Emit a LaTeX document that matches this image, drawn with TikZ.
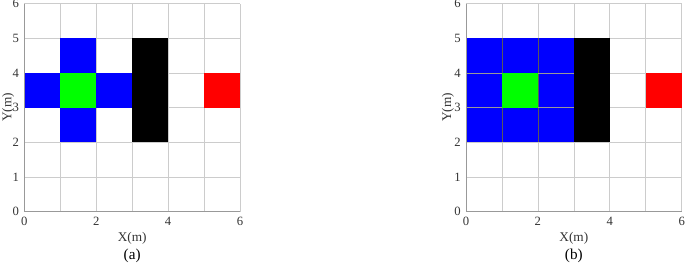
\documentclass[tikz,border=0pt]{standalone}
\usepackage{fontspec}
\setmainfont{Liberation Serif}
\usetikzlibrary{positioning}

\tikzset{
  gridline/.style={gray!40, line width=0.5pt},
  axisline/.style={gray!80, line width=0.6pt},
  innerline/.style={black!65, line width=0.3pt},
  ticklabel/.style={font=\fontsize{10}{12}\selectfont, text=black!80, inner sep=1pt},
  axislabel/.style={font=\fontsize{10.5}{12}\selectfont, text=black!80, inner sep=1pt},
  caption/.style={font=\fontsize{12}{14}\selectfont, inner sep=1pt}
}

\begin{document}
\begin{tikzpicture}
\def\ux{0.9986}
\def\uy{0.9631}
\useasboundingbox (0,0) rectangle (19.028,7.389);

% panel (a)
\begin{scope}[shift={(0.675,1.511)}, x=\ux cm, y=\uy cm]
\foreach \i in {1,...,6} {
  \draw[gridline] (\i,0) -- (\i,6);
  \draw[gridline] (0,\i) -- (6,\i);
}
\fill[blue] (1,2) rectangle (2,5);
\fill[blue] (0,3) rectangle (3,4);
\fill[green] (1,3) rectangle (2,4);
\fill[black] (3,2) rectangle (4,5);
\fill[red] (5,3) rectangle (6,4);
\draw[axisline] (0,6) -- (0,0) -- (6,0);
\foreach \t in {0,2,4,6}
  \node[ticklabel, below=3pt] (ax\t) at (\t,0) {\t};
\foreach \t in {0,...,6}
  \node[ticklabel, left=3pt] (ay\t) at (0,\t) {\t};
\node[axislabel] (axlab) at (3,-0.76) {X(m)};
\node[axislabel, rotate=90] (aylab) at (-0.45,3) {Y(m)};
\node[caption] (capa) at (3,-1.29) {(a)};
\end{scope}

% panel (b)
\begin{scope}[shift={(12.944,1.511)}, x=\ux cm, y=\uy cm]
\foreach \i in {1,...,6} {
  \draw[gridline] (\i,0) -- (\i,6);
  \draw[gridline] (0,\i) -- (6,\i);
}
\fill[blue] (0,2) rectangle (3,5);
\draw[innerline] (1,2) -- (1,5) (2,2) -- (2,5);
\draw[innerline, black!40] (0,4) -- (3,4) (0,3) -- (3,3);
\fill[green] (1,3) rectangle (2,4);
\fill[black] (3,2) rectangle (4,5);
\fill[red] (5,3) rectangle (6,4);
\draw[axisline] (0,6) -- (0,0) -- (6,0);
\foreach \t in {0,2,4,6}
  \node[ticklabel, below=3pt] (bx\t) at (\t,0) {\t};
\foreach \t in {0,...,6}
  \node[ticklabel, left=3pt] (by\t) at (0,\t) {\t};
\node[axislabel] (bxlab) at (3,-0.76) {X(m)};
\node[axislabel, rotate=90] (bylab) at (-0.5,3) {Y(m)};
\node[caption] (capb) at (3,-1.29) {(b)};
\end{scope}
\end{tikzpicture}
\end{document}
